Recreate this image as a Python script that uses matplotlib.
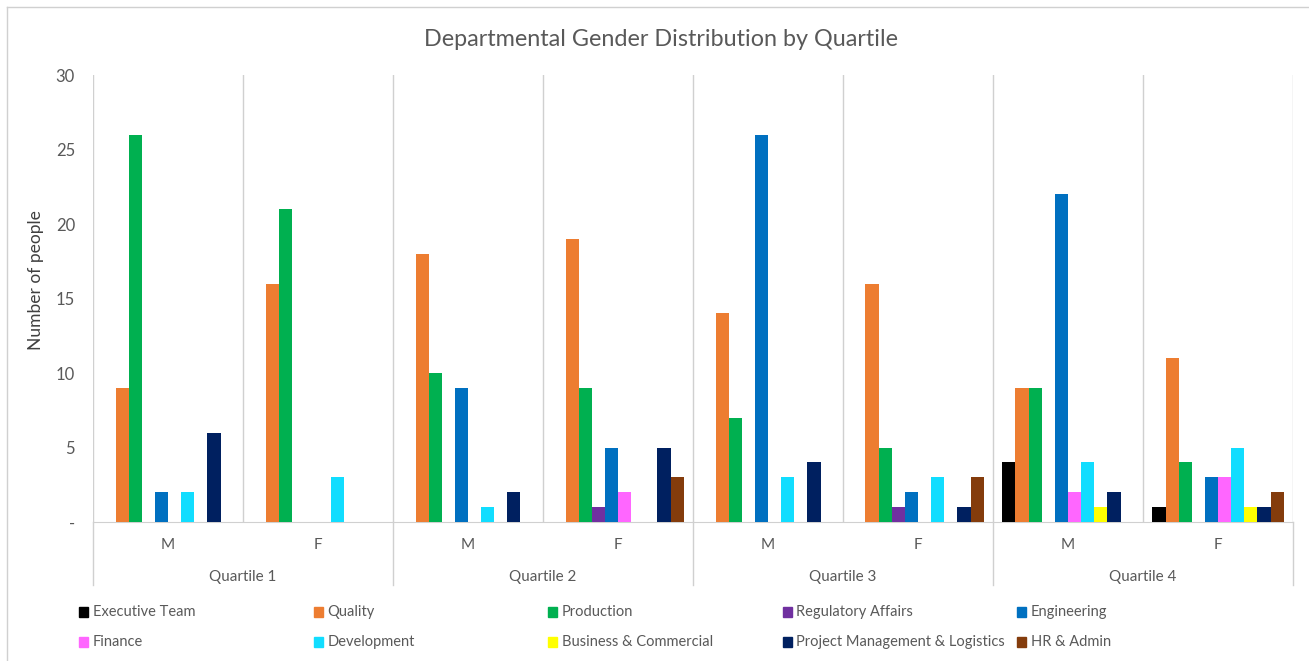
import numpy as np
from matplotlib import pyplot as plt
from matplotlib.lines import Line2D
from matplotlib.patches import Rectangle

plt.rcParams['font.family'] = ['Lato', 'DejaVu Sans']

# Данные
genders = ['M', 'F', 'M', 'F', 'M', 'F', 'M', 'F']
quartiles = ['Quartile 1', 'Quartile 2', 'Quartile 3', 'Quartile 4']
departments = ['Executive Team', 'Quality', 'Production', 'Regulatory Affairs', 'Engineering',
               'Finance', 'Development', 'Business & Commercial',
               'Project Management & Logistics', 'HR & Admin']
colors = ['#000000', '#ED7D31', '#00B050', '#7030A0', '#0070C0',
          '#FF66FF', '#11DDFF', '#FFFF00', '#002060', '#843C0C']

executive = [0, 0, 0, 0, 0, 0, 4, 1]
quality = [9, 16, 18, 19, 14, 16, 9, 11]
production = [26, 21, 10, 9, 7, 5, 9, 4]
regulatory = [0, 0, 0, 1, 0, 1, 0, 0]
engineering = [2, 0, 9, 5, 26, 2, 22, 3]
finance = [0, 0, 0, 2, 0, 0, 2, 3]
development = [2, 3, 1, 0, 3, 3, 4, 5]
business = [0, 0, 0, 0, 0, 0, 1, 1]
project_mgmt = [6, 0, 2, 5, 4, 1, 2, 1]
hr_admin = [0, 0, 0, 3, 0, 3, 0, 2]

series = [executive, quality, production, regulatory, engineering,
          finance, development, business, project_mgmt, hr_admin]

W, H = 1309, 661
fig = plt.figure(figsize=(W / 100, H / 100), dpi=100)
ax = fig.add_axes([93 / W, 1 - 522 / H, 1200 / W, 447 / H])

grid_c = '#D0D0D0'
text_c = '#595959'

# Столбцы
x = np.arange(len(genders))
bw = 0.0875
for i, (vals, c) in enumerate(zip(series, colors)):
    ax.bar(x + (i - 4.5) * bw, vals, width=bw, color=c, zorder=3, linewidth=0)

ax.set_xlim(-0.5, len(genders) - 0.5)
ax.set_ylim(0, 30)
ax.set_yticks(range(0, 31, 5))
ax.set_yticklabels(['-'] + [str(v) for v in range(5, 31, 5)])
ax.tick_params(axis='y', length=0, pad=13, labelsize=12, labelcolor=text_c)
ax.set_xticks([])
for s in ['top', 'right', 'left']:
    ax.spines[s].set_visible(False)
ax.spines['bottom'].set_color(grid_c)

# Вертикальные линии
for b in np.arange(-0.5, len(genders), 1):
    ax.axvline(b, color=grid_c, lw=1, zorder=1)
    if (b + 0.5) % 2 == 0:
        ax.plot([b, b], [0, -0.142], transform=ax.get_xaxis_transform(),
                color=grid_c, lw=1, clip_on=False)

tr = ax.get_xaxis_transform()
for xi, g in zip(x, genders):
    ax.text(xi, -0.052, g, transform=tr, ha='center', va='center', fontsize=11, color=text_c)
for qi, q in enumerate(quartiles):
    ax.text(2 * qi + 0.5, -0.122, q, transform=tr, ha='center', va='center', fontsize=11, color=text_c)

ax.set_ylabel('Number of people', fontsize=12.5, color='#404040')
ax.yaxis.set_label_coords(-0.041, 0.541)

fig.text(661 / W, 1 - 39 / H, 'Departmental Gender Distribution by Quartile',
         ha='center', va='center', fontsize=16.8, color=text_c)

# Легенда
for k, (name, c) in enumerate(zip(departments, colors)):
    col, row = k % 5, k // 5
    lx = 79 + col * 234.5
    ly = 612 + row * 30
    fig.patches.append(Rectangle((lx / W, 1 - (ly + 5) / H), 9 / W, 10 / H,
                                 transform=fig.transFigure, color=c))
    fig.text((lx + 14) / W, 1 - ly / H, name, ha='left', va='center',
             fontsize=10.5, color=text_c)

# Рамка
fig.lines.append(Line2D([7 / W, 7 / W], [0, 1 - 7 / H], transform=fig.transFigure, color=grid_c, lw=1))
fig.lines.append(Line2D([7 / W, 1], [1 - 7 / H, 1 - 7 / H], transform=fig.transFigure, color=grid_c, lw=1))

fig.savefig('out.png', dpi=100)
